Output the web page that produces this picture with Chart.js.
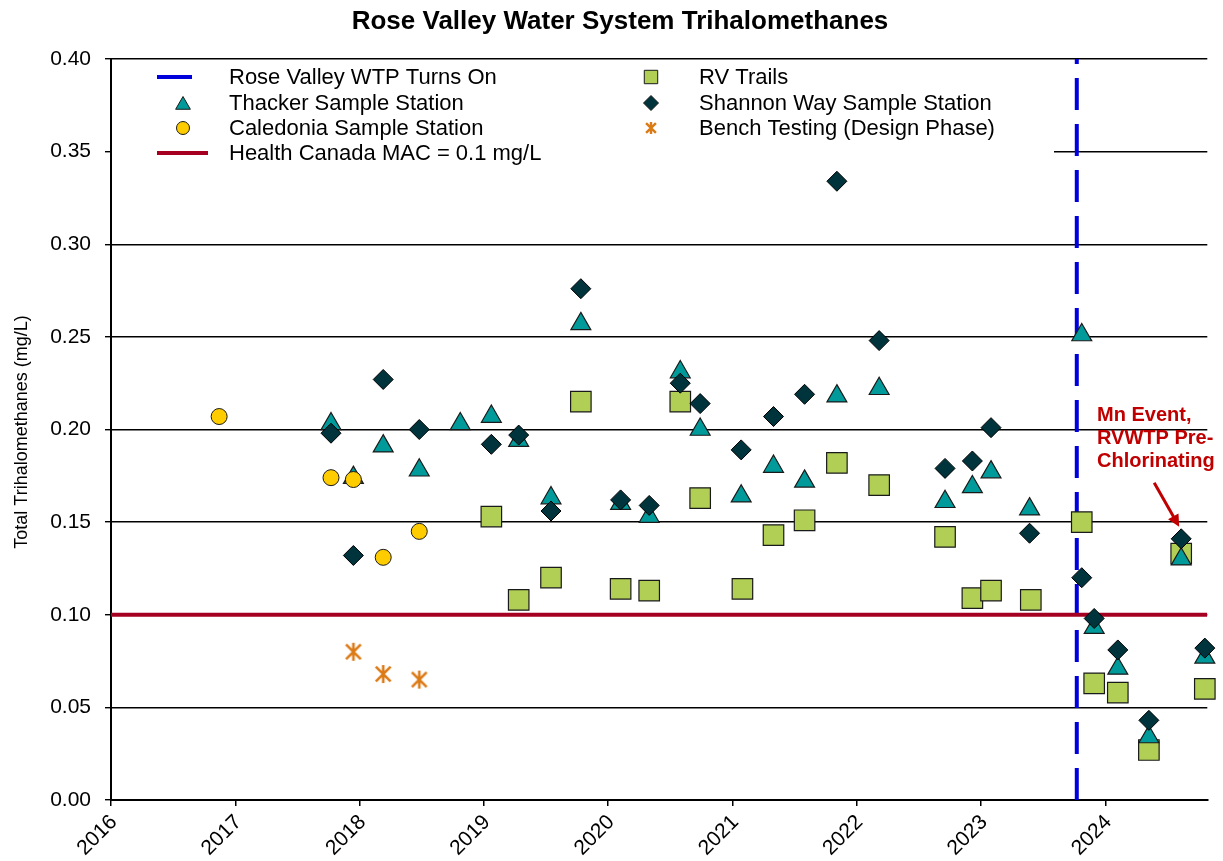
<!DOCTYPE html>
<html>
<head>
<meta charset="utf-8">
<script src="https://cdn.jsdelivr.net/npm/chart.js@4.4.1/dist/chart.umd.min.js"></script>
<style>
body{margin:0;background:#fff;}
</style>
</head>
<body>
<canvas id="thm" width="1223" height="861"></canvas>
<script>
// sample dates are decimal years, values in mg/L
var thackerDates = [2017.77, 2017.95, 2018.19, 2018.48, 2018.81, 2019.06, 2019.28, 2019.54, 2019.78, 2020.10,
    2020.33, 2020.58, 2020.74, 2021.07, 2021.33, 2021.58, 2021.84, 2022.18, 2022.71, 2022.93,
    2023.08, 2023.39, 2023.81, 2023.91, 2024.10, 2024.35, 2024.61, 2024.80];
var thackerTHM = [0.203, 0.174, 0.191, 0.178, 0.203, 0.207, 0.194, 0.163, 0.257, 0.160,
    0.153, 0.231, 0.200, 0.164, 0.180, 0.172, 0.218, 0.222, 0.161, 0.169,
    0.177, 0.157, 0.251, 0.093, 0.071, 0.034, 0.130, 0.077];

var shannonDates = [2017.77, 2017.95, 2018.19, 2018.48, 2019.06, 2019.28, 2019.54, 2019.78, 2020.10, 2020.33,
    2020.58, 2020.74, 2021.07, 2021.33, 2021.58, 2021.84, 2022.18, 2022.71, 2022.93, 2023.08,
    2023.39, 2023.81, 2023.91, 2024.10, 2024.35, 2024.61, 2024.80];
var shannonTHM = [0.198, 0.132, 0.227, 0.200, 0.192, 0.197, 0.156, 0.276, 0.162, 0.159,
    0.225, 0.214, 0.189, 0.207, 0.219, 0.334, 0.248, 0.179, 0.183, 0.201,
    0.144, 0.120, 0.098, 0.081, 0.043, 0.141, 0.082];

var caledoniaDates = [2016.87, 2017.77, 2017.95, 2018.19, 2018.48];
var caledoniaTHM = [0.207, 0.174, 0.173, 0.131, 0.145];

var rvTrailsDates = [2019.06, 2019.28, 2019.54, 2019.78, 2020.10, 2020.33, 2020.58, 2020.74, 2021.08, 2021.33,
    2021.58, 2021.84, 2022.18, 2022.71, 2022.93, 2023.08, 2023.40, 2023.81, 2023.91, 2024.10,
    2024.35, 2024.61, 2024.80];
var rvTrailsTHM = [0.153, 0.108, 0.120, 0.215, 0.114, 0.113, 0.215, 0.163, 0.114, 0.143,
    0.151, 0.182, 0.170, 0.142, 0.109, 0.113, 0.108, 0.150, 0.063, 0.058,
    0.027, 0.133, 0.060];

var benchDates = [2017.95, 2018.19, 2018.48];
var benchTHM = [0.080, 0.068, 0.065];

var wtpStart = 2023.77;      // Rose Valley WTP turns on
var healthCanadaMAC = 0.1;   // mg/L
var xMin = 2016, xMax = 2024.82;
var yMin = 0, yMax = 0.40;

var FONT = '"Liberation Sans", Arial, sans-serif';

function pts(xs, ys){
    var out = [];
    for (var i = 0; i < xs.length; i++) out.push({x: xs[i], y: ys[i]});
    return out;
}

// excel style "*" marker: an X with a vertical bar
function drawAsterisk(ctx, cx, cy, size, color, lw){
    var h = size / 2, d = h * 0.82;
    ctx.save();
    ctx.strokeStyle = color;
    ctx.lineWidth = lw;
    ctx.lineCap = 'butt';
    ctx.beginPath();
    ctx.moveTo(cx, cy - h); ctx.lineTo(cx, cy + h);
    ctx.moveTo(cx - d, cy - d); ctx.lineTo(cx + d, cy + d);
    ctx.moveTo(cx + d, cy - d); ctx.lineTo(cx - d, cy + d);
    ctx.stroke();
    ctx.restore();
}
function asteriskCanvas(size, color, lw){
    var c = document.createElement('canvas');
    c.width = size + 4; c.height = size + 4;
    drawAsterisk(c.getContext('2d'), c.width / 2, c.height / 2, size, color, lw);
    return c;
}

var benchColor = '#DC7A16';
var benchMarker = asteriskCanvas(18, benchColor, 2.6);

var col = {
    thacker: '#009A9A',
    shannon: '#00343C',
    caledonia: '#FFCC00',
    rv: '#B1CE55',
    mac: '#A50021',
    wtp: '#0000DD',
    edge: '#1A1A1A'
};

var legendItems = [
    // column 1
    {col: 0, row: 0, text: 'Rose Valley WTP Turns On', line: col.wtp, len: 35},
    {col: 0, row: 1, text: 'Thacker Sample Station', style: 'triangle', fill: col.thacker, r: 8.5},
    {col: 0, row: 2, text: 'Caledonia Sample Station', style: 'circle', fill: col.caledonia, r: 6.5},
    {col: 0, row: 3, text: 'Health Canada MAC = 0.1 mg/L', line: col.mac, len: 51},
    // column 2
    {col: 1, row: 0, text: 'RV Trails', style: 'rect', fill: col.rv, r: 9.5},
    {col: 1, row: 1, text: 'Shannon Way Sample Station', style: 'rectRot', fill: col.shannon, r: 7.5},
    {col: 1, row: 2, text: 'Bench Testing (Design Phase)', star: true}
];

var decor = {
    id: 'decor',
    beforeDatasetsDraw: function(chart){
        var ctx = chart.ctx, a = chart.chartArea;
        ctx.save();
        // legend sits on a white box over the gridlines
        ctx.fillStyle = '#fff';
        ctx.fillRect(a.left + 1, a.top + 2, 1053 - a.left, 108);
        var symX = [a.left + 72, a.left + 540];
        var txtX = [a.left + 118, a.left + 588];
        var rowY = [a.top + 18, a.top + 44, a.top + 69, a.top + 94];
        ctx.font = '22px ' + FONT;
        ctx.textBaseline = 'middle';
        ctx.textAlign = 'left';
        legendItems.forEach(function(it){
            var x = symX[it.col], y = rowY[it.row];
            if (it.line) {
                ctx.strokeStyle = it.line;
                ctx.lineWidth = 4;
                ctx.beginPath();
                ctx.moveTo(a.left + 46, y);
                ctx.lineTo(a.left + 46 + it.len, y);
                ctx.stroke();
            } else if (it.star) {
                drawAsterisk(ctx, x, y, 12, benchColor, 2.4);
            } else {
                ctx.fillStyle = it.fill;
                ctx.strokeStyle = col.edge;
                ctx.lineWidth = 1;
                var yy = it.style === 'triangle' ? y + 2 : y;
                Chart.helpers.drawPoint(ctx, {pointStyle: it.style, radius: it.r, rotation: 0, borderWidth: 1}, x, yy);
            }
            ctx.fillStyle = '#000';
            ctx.fillText(it.text, txtX[it.col], y + 1);
        });
        ctx.restore();
    },
    afterDraw: function(chart){
        var ctx = chart.ctx, a = chart.chartArea;
        ctx.save();
        ctx.fillStyle = '#000';
        ctx.textAlign = 'center';
        ctx.textBaseline = 'middle';
        ctx.font = 'bold 26px ' + FONT;
        ctx.fillText('Rose Valley Water System Trihalomethanes', 620, 22);

        ctx.save();
        ctx.translate(22, 432);
        ctx.rotate(-Math.PI / 2);
        ctx.font = '18px ' + FONT;
        ctx.fillText('Total Trihalomethanes (mg/L)', 0, 0);
        ctx.restore();

        // Mn event note with arrow
        var xs = chart.scales.x, ys = chart.scales.y;
        var tipX = xs.getPixelForValue(2024.61) - 2;
        var tipY = ys.getPixelForValue(0.141) - 12;
        ctx.fillStyle = '#C00000';
        ctx.textAlign = 'left';
        ctx.font = 'bold 20px ' + FONT;
        ['Mn Event,', 'RVWTP Pre-', 'Chlorinating'].forEach(function(s, i){
            ctx.fillText(s, 1097, 415 + i * 23);
        });
        var sx = tipX - 25, sy = tipY - 44;
        var ang = Math.atan2(tipY - sy, tipX - sx);
        ctx.strokeStyle = '#C00000';
        ctx.lineWidth = 3;
        ctx.beginPath();
        ctx.moveTo(sx, sy);
        ctx.lineTo(tipX - 8 * Math.cos(ang), tipY - 8 * Math.sin(ang));
        ctx.stroke();
        ctx.beginPath();
        ctx.moveTo(tipX, tipY);
        ctx.lineTo(tipX - 12 * Math.cos(ang) + 6 * Math.sin(ang), tipY - 12 * Math.sin(ang) - 6 * Math.cos(ang));
        ctx.lineTo(tipX - 12 * Math.cos(ang) - 6 * Math.sin(ang), tipY - 12 * Math.sin(ang) + 6 * Math.cos(ang));
        ctx.closePath();
        ctx.fill();
        ctx.restore();
    }
};

Chart.defaults.color = '#000';
Chart.defaults.font.family = FONT;

var ctx = document.getElementById('thm').getContext('2d');
var thmChart = new Chart(ctx, {
    type: 'scatter',
    data: {
        datasets: [
            {
                type: 'line', label: 'Rose Valley WTP Turns On',
                data: [{x: wtpStart, y: yMin}, {x: wtpStart, y: yMax}],
                borderColor: col.wtp, borderWidth: 4, borderDash: [32, 14],
                pointRadius: 0, order: 10
            },
            {
                type: 'line', label: 'Health Canada MAC = 0.1 mg/L',
                data: [{x: xMin, y: healthCanadaMAC}, {x: xMax, y: healthCanadaMAC}],
                borderColor: col.mac, borderWidth: 4, pointRadius: 0, order: 9
            },
            {
                label: 'RV Trails', data: pts(rvTrailsDates, rvTrailsTHM),
                pointStyle: 'rect', pointRadius: 14.5, backgroundColor: col.rv,
                borderColor: col.edge, borderWidth: 1.2, order: 5, clip: false
            },
            {
                label: 'Thacker Sample Station', data: pts(thackerDates, thackerTHM),
                pointStyle: 'triangle', pointRadius: 11.5, backgroundColor: col.thacker,
                borderColor: col.edge, borderWidth: 1.2, order: 4, clip: false
            },
            {
                label: 'Caledonia Sample Station', data: pts(caledoniaDates, caledoniaTHM),
                pointStyle: 'circle', pointRadius: 8, backgroundColor: col.caledonia,
                borderColor: col.edge, borderWidth: 1, order: 3, clip: false
            },
            {
                label: 'Bench Testing (Design Phase)', data: pts(benchDates, benchTHM),
                pointStyle: benchMarker, order: 2, clip: false
            },
            {
                label: 'Shannon Way Sample Station', data: pts(shannonDates, shannonTHM),
                pointStyle: 'rectRot', pointRadius: 10, backgroundColor: col.shannon,
                borderColor: '#000', borderWidth: 1, order: 1, clip: false
            }
        ]
    },
    options: {
        responsive: false,
        animation: false,
        events: [],
        layout: {padding: {top: 59, right: 15, left: 0, bottom: 0}},
        plugins: {
            legend: {display: false},
            title: {display: false},
            tooltip: {enabled: false}
        },
        scales: {
            x: {
                type: 'linear',
                min: xMin, max: xMax,
                afterFit: function(s){ s.height = 61; },
                grid: {display: true, drawOnChartArea: false, drawTicks: true, tickLength: 6, color: '#000', lineWidth: 1.5},
                border: {display: true, color: '#000', width: 2},
                ticks: {
                    stepSize: 1, includeBounds: false, autoSkip: false,
                    minRotation: 45, maxRotation: 45, padding: 4, labelOffset: 3,
                    font: {size: 21},
                    callback: function(v){ return String(v); }
                }
            },
            y: {
                min: yMin, max: yMax,
                afterFit: function(s){ s.width = 111; },
                grid: {color: '#000', lineWidth: 1.4, drawTicks: true, tickLength: 6},
                border: {display: true, color: '#000', width: 2},
                ticks: {
                    stepSize: 0.05, padding: 14,
                    font: {size: 21},
                    callback: function(v){ return v.toFixed(2); }
                }
            }
        }
    },
    plugins: [decor]
});
</script>
</body>
</html>
